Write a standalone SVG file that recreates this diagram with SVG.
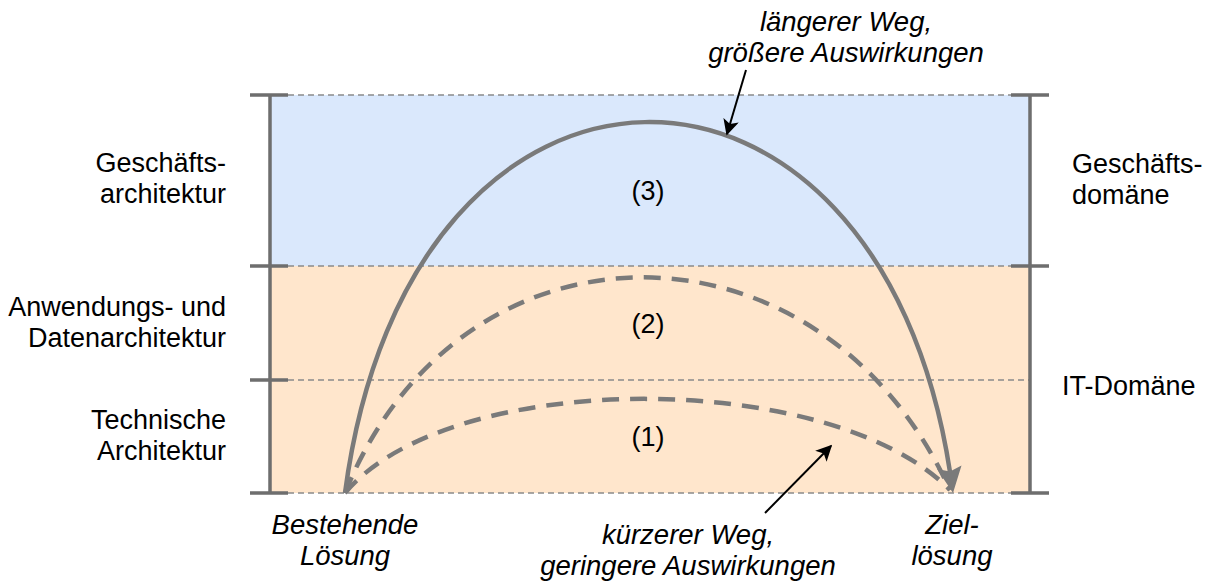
<svg xmlns="http://www.w3.org/2000/svg" width="1211" height="583" viewBox="0 0 1211 583">
<style>
text{font-family:"Liberation Sans",Arial,sans-serif;font-size:27px;fill:#000}
.it{font-style:italic;text-anchor:middle;font-size:27.5px}
.r{text-anchor:end}
.m{text-anchor:middle}
.grid{stroke:#8a8a8a;stroke-width:1.5;stroke-dasharray:6 4;fill:none}
.bar{stroke:#6e6e6e;stroke-width:3.5;fill:none}
.path{stroke:#7a7a7a;stroke-width:4.5;fill:none}
.dash{stroke-dasharray:17 11}
.ptr{stroke:#000;stroke-width:2;fill:none}
.head{fill:#7a7a7a}
</style>
<defs>
<marker id="blk" viewBox="0 0 10 10" refX="9" refY="5" markerWidth="8" markerHeight="8" markerUnits="strokeWidth" orient="auto"><path d="M0,0 L10,5 L0,10 L2.5,5 Z" fill="#000"/></marker>
</defs>
<g id="bands">
<rect x="271" y="95" width="759" height="171" fill="#dae8fc"/>
<rect x="271" y="266" width="759" height="227" fill="#ffe6cc"/>
<path class="grid" d="M288,95H1011M288,266H1011M288,380H1030M288,493H1011"/>
</g>
<g id="scale-left">
<path class="bar" d="M270,95V493M250,95H288M250,266H288M250,380H288M250,493H288"/>
</g>
<g id="scale-right">
<path class="bar" d="M1030,95V493M1011,95H1049M1011,266H1049M1011,493H1049"/>
</g>
<g id="connectors">
<path id="path2" class="path dash" d="M345,493 C460,206 820,206 950,490"/>
<path id="path1" class="path dash" d="M345,493 C450,368 830,368 950,490"/>
<path id="path3" class="path" d="M345,493 C410,2 878,2 950,472"/>
<path class="head" d="M953,493 L961.5,465.5 L950,471.5 L937,469 Z"/>
<path class="ptr" d="M746,70 L727,134" marker-end="url(#blk)"/>
<path class="ptr" d="M765,513 L831,446" marker-end="url(#blk)"/>
</g>
<g id="label-left-1"><text class="r" x="226" y="172">Geschäfts-</text><text class="r" x="226" y="203">architektur</text></g>
<g id="label-left-2"><text class="r" x="226" y="316">Anwendungs- und</text><text class="r" x="226" y="347">Datenarchitektur</text></g>
<g id="label-left-3"><text class="r" x="226" y="429">Technische</text><text class="r" x="226" y="460">Architektur</text></g>
<g id="label-right-1"><text x="1072" y="173">Geschäfts-</text><text x="1072" y="204">domäne</text></g>
<g id="label-right-2"><text x="1062" y="395">IT-Domäne</text></g>
<g id="num3"><text class="m" x="648" y="200">(3)</text></g>
<g id="num2"><text class="m" x="648" y="333">(2)</text></g>
<g id="num1"><text class="m" x="648" y="446">(1)</text></g>
<g id="note-long"><text class="it" x="846" y="31">längerer Weg,</text><text class="it" x="846" y="62">größere Auswirkungen</text></g>
<g id="note-short"><text class="it" x="688" y="544">kürzerer Weg,</text><text class="it" x="688" y="575">geringere Auswirkungen</text></g>
<g id="start"><text class="it" x="345" y="534">Bestehende</text><text class="it" x="345" y="565">Lösung</text></g>
<g id="target"><text class="it" x="952" y="534">Ziel-</text><text class="it" x="952" y="565">lösung</text></g>
</svg>
